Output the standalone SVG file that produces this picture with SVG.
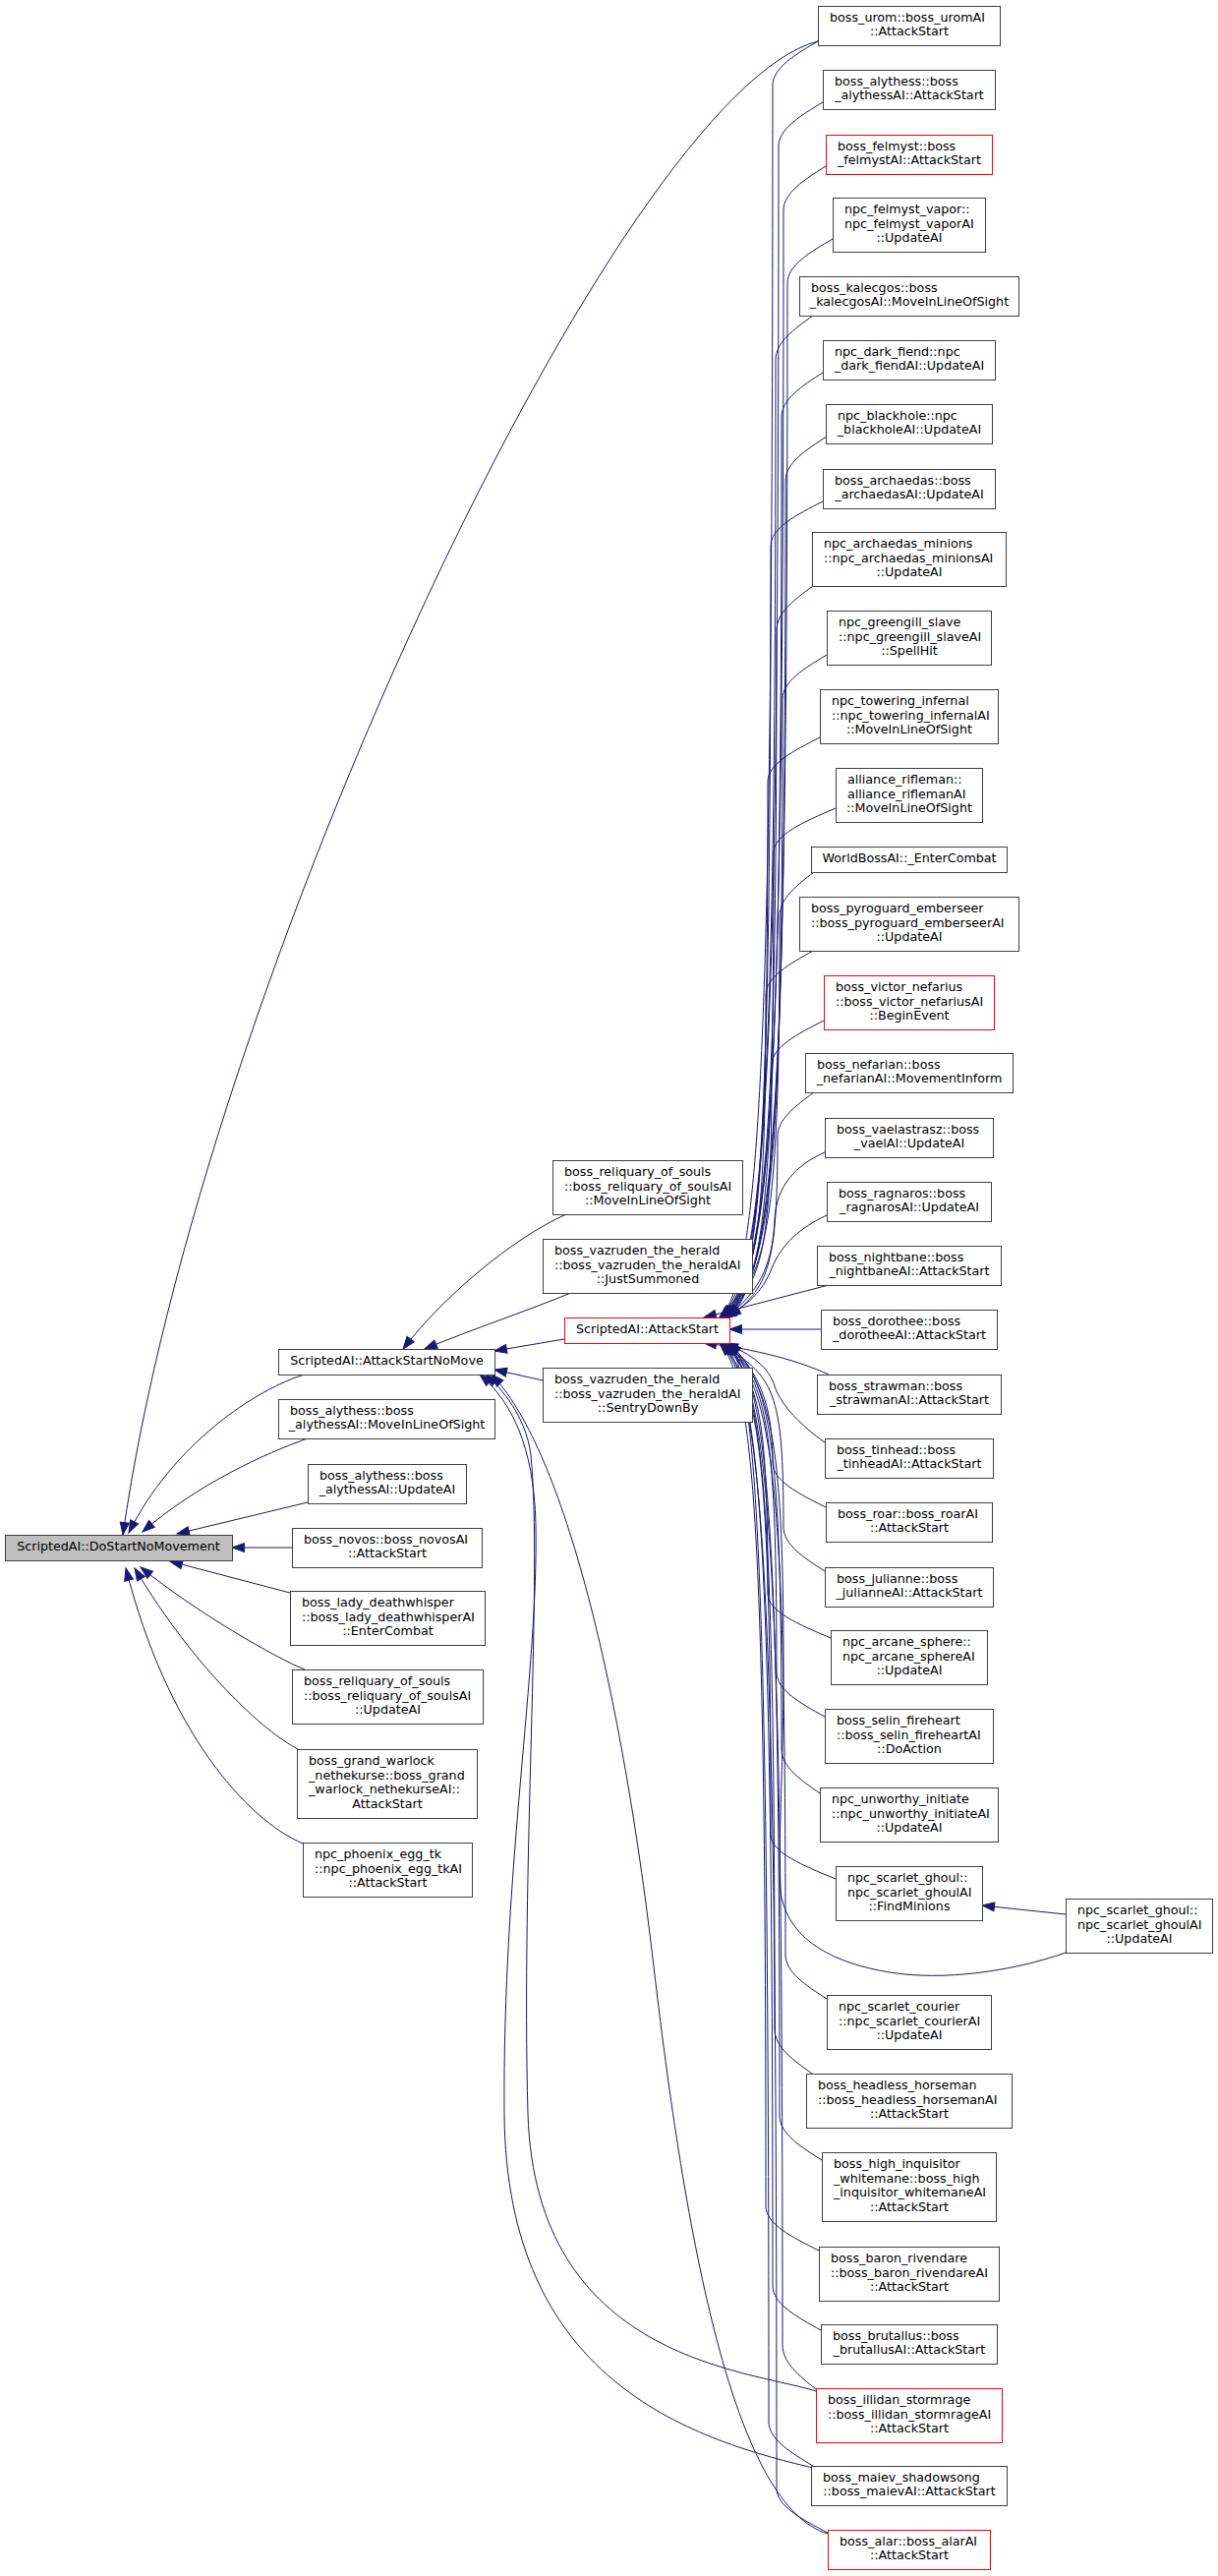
<svg xmlns="http://www.w3.org/2000/svg" width="1239" height="2620" viewBox="0 0 1239 2620">
<style>
.node rect{fill:#ffffff;stroke:#404040;stroke-width:1}
.node.red rect{stroke:#ff0000}
.node.root rect{fill:#bfbfbf}
text{font-family:"DejaVu Sans","Liberation Sans",sans-serif;font-size:12.7px;fill:#000000}
.c{text-anchor:middle}
#edges path{fill:none;stroke:#191970;stroke-width:1;marker-end:url(#ah)}
</style>
<defs>
<marker id="ah" markerUnits="userSpaceOnUse" markerWidth="14" markerHeight="10" refX="12.5" refY="4.5" orient="auto" overflow="visible">
<path d="M0,0 L12.5,4.5 L0,9 Z" fill="#191970" stroke="#191970" stroke-width="1"/>
</marker>
</defs>
<rect x="0" y="0" width="1239" height="2620" fill="#ffffff"/>
<g id="edges">
<path d="M832,42 C632,92 205,1000 125,1561"/>
<path d="M313,1397 C260,1412 175,1470 131,1559"/>
<path d="M313,1463 C270,1478 200,1510 145,1558"/>
<path d="M313,1528 L180,1560"/>
<path d="M297,1574 L236,1574"/>
<path d="M295,1620 L173,1588"/>
<path d="M310,1698 C280,1686 200,1640 143,1594"/>
<path d="M303,1779 C270,1762 200,1700 137,1595"/>
<path d="M308,1875 C250,1850 170,1760 128,1595"/>
<path d="M576,1235 C520,1260 450,1320 410,1372"/>
<path d="M583,1314 C540,1332 480,1352 432,1372"/>
<path d="M574,1362 L503,1374"/>
<path d="M552,1404 L503,1393"/>
<path d="M830,2432 C760,2410 545,2400 537,2150 C530,1900 552,1600 540,1480 C535,1440 510,1412 494,1398"/>
<path d="M827,2510 C700,2480 515,2420 513,2150 C511,1900 548,1700 545,1550 C543,1470 520,1425 488,1398"/>
<path d="M842,2577 C750,2550 700,2300 665,2000 C630,1700 570,1470 500,1398"/>
<path d="M832,42 C809,55.5 786,69 786,87 C786,1027 776,1300 732,1340"/>
<path d="M837,104 C814.5,117.5 792,131 792,149 C792,1042 782,1300 735,1340"/>
<path d="M840,169 C818.5,182.5 797,196 797,214 C797,1058 787,1300 738,1340"/>
<path d="M847,243 C824,256.5 801,270 801,288 C801,1077 791,1300 741,1340"/>
<path d="M827,321 C808,334.5 789,348 789,366 C789,1096 779,1300 732,1340"/>
<path d="M837,379 C816,392.5 795,406 795,424 C795,1111 785,1300 735,1340"/>
<path d="M841,444 C820,457.5 799,471 799,489 C799,1127 789,1300 738,1340"/>
<path d="M837,510 C810.5,523.5 784,537 784,555 C784,1144 774,1300 741,1340"/>
<path d="M827,596 C808.5,609.5 790,623 790,641 C790,1165 780,1300 732,1340"/>
<path d="M841,666 C818.5,679.5 796,693 796,711 C796,1183 786,1300 735,1340"/>
<path d="M834,750 C807.5,763.5 781,777 781,795 C781,1204 771,1300 738,1340"/>
<path d="M850,822 C818.5,835.5 787,849 787,867 C787,1222 777,1300 741,1340"/>
<path d="M828,887 C810.5,900.5 793,914 793,932 C793,1238 783,1300 732,1340"/>
<path d="M827,967 C803,980.5 779,994 779,1012 C779,1258 769,1300 735,1340"/>
<path d="M838,1038 C811.5,1051.5 785,1065 785,1083 C785,1276 775,1300 738,1340"/>
<path d="M828,1111 C809.5,1124.5 791,1138 791,1156 C791,1290 781,1310 741,1340"/>
<path d="M839,1172 C810,1185 790,1205 788,1240 C786,1290 770,1315 739,1340"/>
<path d="M841,1236 C815,1248 795,1265 785,1290 C775,1315 760,1328 736,1340"/>
<path d="M843,1307 L716,1340"/>
<path d="M835,1352 L742,1352"/>
<path d="M843,1398 C815,1385 770,1372 716,1366"/>
<path d="M839,1467 C815,1450 795,1430 788,1410 C782,1390 765,1378 738,1366"/>
<path d="M840,1533 C813,1519.5 786,1506 786,1488 C786,1440 778,1400 741,1366"/>
<path d="M839,1598 C818,1584.5 797,1571 797,1553 C797,1412 787,1400 732,1366"/>
<path d="M845,1666 C813,1652.5 781,1639 781,1621 C781,1430 771,1404 735,1366"/>
<path d="M839,1746 C814.5,1732.5 790,1719 790,1701 C790,1450 780,1404 738,1366"/>
<path d="M834,1824 C814.5,1810.5 795,1797 795,1779 C795,1469 785,1404 741,1366"/>
<path d="M850,1911 C817,1897.5 784,1884 784,1866 C784,1491 774,1404 732,1366"/>
<path d="M841,2033 C820,2019.5 799,2006 799,1988 C799,1521 789,1404 735,1366"/>
<path d="M826,2109 C807,2095.5 788,2082 788,2064 C788,1540 778,1404 738,1366"/>
<path d="M836,2197 C814.5,2183.5 793,2170 793,2152 C793,1562 783,1404 741,1366"/>
<path d="M833,2289 C806,2275.5 779,2262 779,2244 C779,1585 769,1404 732,1366"/>
<path d="M835,2370 C810.5,2356.5 786,2343 786,2325 C786,1606 776,1404 735,1366"/>
<path d="M830,2430 C813,2416.5 796,2403 796,2385 C796,1621 786,1404 738,1366"/>
<path d="M827,2508 C804.5,2494.5 782,2481 782,2463 C782,1640 772,1404 741,1366"/>
<path d="M842,2576 C816,2562.5 790,2549 790,2531 C790,1657 780,1404 732,1366"/>
<path d="M1084,1986 C1030,2005 960,2015 905,2006 C850,1997 805,1975 795,1930 C790,1900 797,1800 797,1700 C797,1480 787,1404 738,1366"/>
<path d="M1084,1947 L999,1938"/>
</g>
<g id="node-DoStartNoMovement" class="node root"><rect x="5.5" y="1561.5" width="231" height="26"/><text class="c" x="120.5" y="1577">ScriptedAI::DoStartNoMovement</text></g>
<g id="node-AttackStartNoMove" class="node"><rect x="283.5" y="1372.5" width="220" height="26"/><text class="c" x="393.5" y="1388">ScriptedAI::AttackStartNoMove</text></g>
<g id="node-alythess-MoveInLineOfSight" class="node"><rect x="283.5" y="1423.5" width="220" height="40"/><text x="295" y="1438.6">boss_alythess::boss</text><text class="c" x="393.5" y="1453.4">_alythessAI::MoveInLineOfSight</text></g>
<g id="node-alythess-UpdateAI" class="node"><rect x="313.5" y="1489.5" width="161" height="40"/><text x="325" y="1504.6">boss_alythess::boss</text><text class="c" x="394" y="1519.4">_alythessAI::UpdateAI</text></g>
<g id="node-novos" class="node"><rect x="297.5" y="1554.5" width="193" height="40"/><text x="309" y="1569.6">boss_novos::boss_novosAI</text><text class="c" x="394" y="1584.4">::AttackStart</text></g>
<g id="node-lady" class="node"><rect x="295.5" y="1618.5" width="198" height="55"/><text x="307" y="1633.7">boss_lady_deathwhisper</text><text x="307" y="1648.5">::boss_lady_deathwhisperAI</text><text class="c" x="394.5" y="1663.3">::EnterCombat</text></g>
<g id="node-reliquary-UpdateAI" class="node"><rect x="297.5" y="1698.5" width="194" height="55"/><text x="309" y="1713.7">boss_reliquary_of_souls</text><text x="309" y="1728.5">::boss_reliquary_of_soulsAI</text><text class="c" x="394.5" y="1743.3">::UpdateAI</text></g>
<g id="node-grand-warlock" class="node"><rect x="302.5" y="1779.5" width="183" height="70"/><text x="314" y="1794.8">boss_grand_warlock</text><text x="314" y="1809.6">_nethekurse::boss_grand</text><text x="314" y="1824.4">_warlock_nethekurseAI::</text><text class="c" x="394" y="1839.2">AttackStart</text></g>
<g id="node-phoenix" class="node"><rect x="308.5" y="1874.5" width="172" height="55"/><text x="320" y="1889.7">npc_phoenix_egg_tk</text><text x="320" y="1904.5">::npc_phoenix_egg_tkAI</text><text class="c" x="394.5" y="1919.3">::AttackStart</text></g>
<g id="node-reliquary-MIL" class="node"><rect x="562.5" y="1180.5" width="193" height="55"/><text x="574" y="1195.7">boss_reliquary_of_souls</text><text x="574" y="1210.5">::boss_reliquary_of_soulsAI</text><text class="c" x="659" y="1225.3">::MoveInLineOfSight</text></g>
<g id="node-vazruden-JustSummoned" class="node"><rect x="552.5" y="1260.5" width="213" height="55"/><text x="564" y="1275.7">boss_vazruden_the_herald</text><text x="564" y="1290.5">::boss_vazruden_the_heraldAI</text><text class="c" x="659" y="1305.3">::JustSummoned</text></g>
<g id="node-AttackStart" class="node red"><rect x="574.5" y="1340.5" width="168" height="26"/><text class="c" x="658.5" y="1356">ScriptedAI::AttackStart</text></g>
<g id="node-vazruden-SentryDownBy" class="node"><rect x="552.5" y="1391.5" width="213" height="55"/><text x="564" y="1406.7">boss_vazruden_the_herald</text><text x="564" y="1421.5">::boss_vazruden_the_heraldAI</text><text class="c" x="659" y="1436.3">::SentryDownBy</text></g>
<g id="node-urom" class="node"><rect x="832.5" y="6.5" width="185" height="40"/><text x="844" y="21.6">boss_urom::boss_uromAI</text><text class="c" x="925" y="36.4">::AttackStart</text></g>
<g id="node-alythess-AttackStart" class="node"><rect x="837.5" y="71.5" width="175" height="40"/><text x="849" y="86.6">boss_alythess::boss</text><text class="c" x="925" y="101.4">_alythessAI::AttackStart</text></g>
<g id="node-felmyst" class="node red"><rect x="840.5" y="137.5" width="169" height="40"/><text x="852" y="152.6">boss_felmyst::boss</text><text class="c" x="925" y="167.4">_felmystAI::AttackStart</text></g>
<g id="node-felmyst-vapor" class="node"><rect x="847.5" y="201.5" width="155" height="55"/><text x="859" y="216.7">npc_felmyst_vapor::</text><text x="859" y="231.5">npc_felmyst_vaporAI</text><text class="c" x="925" y="246.3">::UpdateAI</text></g>
<g id="node-kalecgos" class="node"><rect x="813.5" y="281.5" width="223" height="40"/><text x="825" y="296.6">boss_kalecgos::boss</text><text class="c" x="925" y="311.4">_kalecgosAI::MoveInLineOfSight</text></g>
<g id="node-dark-fiend" class="node"><rect x="837.5" y="346.5" width="175" height="40"/><text x="849" y="361.6">npc_dark_fiend::npc</text><text class="c" x="925" y="376.4">_dark_fiendAI::UpdateAI</text></g>
<g id="node-blackhole" class="node"><rect x="840.5" y="411.5" width="169" height="40"/><text x="852" y="426.6">npc_blackhole::npc</text><text class="c" x="925" y="441.4">_blackholeAI::UpdateAI</text></g>
<g id="node-archaedas" class="node"><rect x="837.5" y="477.5" width="175" height="40"/><text x="849" y="492.6">boss_archaedas::boss</text><text class="c" x="925" y="507.4">_archaedasAI::UpdateAI</text></g>
<g id="node-archaedas-minions" class="node"><rect x="826.5" y="541.5" width="197" height="55"/><text x="838" y="556.7">npc_archaedas_minions</text><text x="838" y="571.5">::npc_archaedas_minionsAI</text><text class="c" x="925" y="586.3">::UpdateAI</text></g>
<g id="node-greengill" class="node"><rect x="841.5" y="621.5" width="167" height="55"/><text x="853" y="636.7">npc_greengill_slave</text><text x="853" y="651.5">::npc_greengill_slaveAI</text><text class="c" x="925" y="666.3">::SpellHit</text></g>
<g id="node-towering" class="node"><rect x="834.5" y="701.5" width="181" height="55"/><text x="846" y="716.7">npc_towering_infernal</text><text x="846" y="731.5">::npc_towering_infernalAI</text><text class="c" x="925" y="746.3">::MoveInLineOfSight</text></g>
<g id="node-rifleman" class="node"><rect x="850.5" y="781.5" width="149" height="55"/><text x="862" y="796.7">alliance_rifleman::</text><text x="862" y="811.5">alliance_riflemanAI</text><text class="c" x="925" y="826.3">::MoveInLineOfSight</text></g>
<g id="node-worldboss" class="node"><rect x="825.5" y="861.5" width="199" height="26"/><text class="c" x="925" y="877">WorldBossAI::_EnterCombat</text></g>
<g id="node-pyroguard" class="node"><rect x="813.5" y="912.5" width="223" height="55"/><text x="825" y="927.7">boss_pyroguard_emberseer</text><text x="825" y="942.5">::boss_pyroguard_emberseerAI</text><text class="c" x="925" y="957.3">::UpdateAI</text></g>
<g id="node-victor" class="node red"><rect x="838.5" y="992.5" width="173" height="55"/><text x="850" y="1007.7">boss_victor_nefarius</text><text x="850" y="1022.5">::boss_victor_nefariusAI</text><text class="c" x="925" y="1037.3">::BeginEvent</text></g>
<g id="node-nefarian" class="node"><rect x="819.5" y="1071.5" width="211" height="40"/><text x="831" y="1086.6">boss_nefarian::boss</text><text class="c" x="925" y="1101.4">_nefarianAI::MovementInform</text></g>
<g id="node-vaelastrasz" class="node"><rect x="839.5" y="1137.5" width="171" height="40"/><text x="851" y="1152.6">boss_vaelastrasz::boss</text><text class="c" x="925" y="1167.4">_vaelAI::UpdateAI</text></g>
<g id="node-ragnaros" class="node"><rect x="841.5" y="1202.5" width="167" height="40"/><text x="853" y="1217.6">boss_ragnaros::boss</text><text class="c" x="925" y="1232.4">_ragnarosAI::UpdateAI</text></g>
<g id="node-nightbane" class="node"><rect x="831.5" y="1267.5" width="187" height="40"/><text x="843" y="1282.6">boss_nightbane::boss</text><text class="c" x="925" y="1297.4">_nightbaneAI::AttackStart</text></g>
<g id="node-dorothee" class="node"><rect x="835.5" y="1332.5" width="179" height="40"/><text x="847" y="1347.6">boss_dorothee::boss</text><text class="c" x="925" y="1362.4">_dorotheeAI::AttackStart</text></g>
<g id="node-strawman" class="node"><rect x="831.5" y="1398.5" width="187" height="40"/><text x="843" y="1413.6">boss_strawman::boss</text><text class="c" x="925" y="1428.4">_strawmanAI::AttackStart</text></g>
<g id="node-tinhead" class="node"><rect x="839.5" y="1463.5" width="171" height="40"/><text x="851" y="1478.6">boss_tinhead::boss</text><text class="c" x="925" y="1493.4">_tinheadAI::AttackStart</text></g>
<g id="node-roar" class="node"><rect x="840.5" y="1528.5" width="169" height="40"/><text x="852" y="1543.6">boss_roar::boss_roarAI</text><text class="c" x="925" y="1558.4">::AttackStart</text></g>
<g id="node-julianne" class="node"><rect x="839.5" y="1594.5" width="171" height="40"/><text x="851" y="1609.6">boss_julianne::boss</text><text class="c" x="925" y="1624.4">_julianneAI::AttackStart</text></g>
<g id="node-arcane-sphere" class="node"><rect x="845.5" y="1658.5" width="159" height="55"/><text x="857" y="1673.7">npc_arcane_sphere::</text><text x="857" y="1688.5">npc_arcane_sphereAI</text><text class="c" x="925" y="1703.3">::UpdateAI</text></g>
<g id="node-selin" class="node"><rect x="839.5" y="1738.5" width="171" height="55"/><text x="851" y="1753.7">boss_selin_fireheart</text><text x="851" y="1768.5">::boss_selin_fireheartAI</text><text class="c" x="925" y="1783.3">::DoAction</text></g>
<g id="node-unworthy" class="node"><rect x="834.5" y="1818.5" width="181" height="55"/><text x="846" y="1833.7">npc_unworthy_initiate</text><text x="846" y="1848.5">::npc_unworthy_initiateAI</text><text class="c" x="925" y="1863.3">::UpdateAI</text></g>
<g id="node-ghoul-FindMinions" class="node"><rect x="850.5" y="1898.5" width="149" height="55"/><text x="862" y="1913.7">npc_scarlet_ghoul::</text><text x="862" y="1928.5">npc_scarlet_ghoulAI</text><text class="c" x="925" y="1943.3">::FindMinions</text></g>
<g id="node-ghoul-UpdateAI" class="node"><rect x="1084.5" y="1931.5" width="149" height="55"/><text x="1096" y="1946.7">npc_scarlet_ghoul::</text><text x="1096" y="1961.5">npc_scarlet_ghoulAI</text><text class="c" x="1159" y="1976.3">::UpdateAI</text></g>
<g id="node-courier" class="node"><rect x="841.5" y="2029.5" width="167" height="55"/><text x="853" y="2044.7">npc_scarlet_courier</text><text x="853" y="2059.5">::npc_scarlet_courierAI</text><text class="c" x="925" y="2074.3">::UpdateAI</text></g>
<g id="node-headless" class="node"><rect x="820.5" y="2109.5" width="209" height="55"/><text x="832" y="2124.7">boss_headless_horseman</text><text x="832" y="2139.5">::boss_headless_horsemanAI</text><text class="c" x="925" y="2154.3">::AttackStart</text></g>
<g id="node-whitemane" class="node"><rect x="836.5" y="2189.5" width="177" height="70"/><text x="848" y="2204.8">boss_high_inquisitor</text><text x="848" y="2219.6">_whitemane::boss_high</text><text x="848" y="2234.4">_inquisitor_whitemaneAI</text><text class="c" x="925" y="2249.2">::AttackStart</text></g>
<g id="node-baron" class="node"><rect x="833.5" y="2285.5" width="183" height="55"/><text x="845" y="2300.7">boss_baron_rivendare</text><text x="845" y="2315.5">::boss_baron_rivendareAI</text><text class="c" x="925" y="2330.3">::AttackStart</text></g>
<g id="node-brutallus" class="node"><rect x="835.5" y="2364.5" width="179" height="40"/><text x="847" y="2379.6">boss_brutallus::boss</text><text class="c" x="925" y="2394.4">_brutallusAI::AttackStart</text></g>
<g id="node-illidan" class="node red"><rect x="830.5" y="2429.5" width="189" height="55"/><text x="842" y="2444.7">boss_illidan_stormrage</text><text x="842" y="2459.5">::boss_illidan_stormrageAI</text><text class="c" x="925" y="2474.3">::AttackStart</text></g>
<g id="node-maiev" class="node"><rect x="825.5" y="2508.5" width="199" height="40"/><text x="837" y="2523.6">boss_maiev_shadowsong</text><text class="c" x="925" y="2538.4">::boss_maievAI::AttackStart</text></g>
<g id="node-alar" class="node red"><rect x="842.5" y="2573.5" width="165" height="40"/><text x="854" y="2588.6">boss_alar::boss_alarAI</text><text class="c" x="925" y="2603.4">::AttackStart</text></g>
</svg>
